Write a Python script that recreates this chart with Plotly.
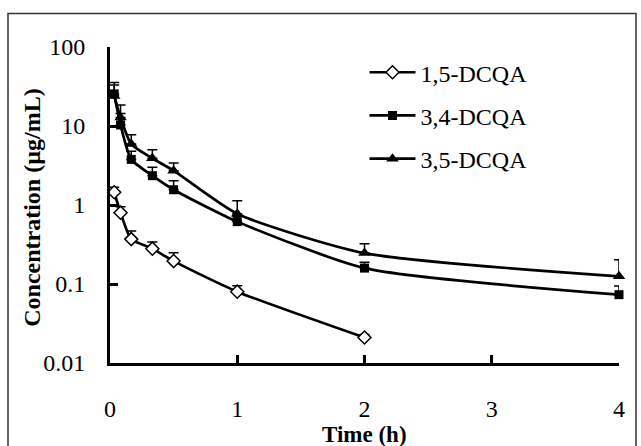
import plotly.graph_objects as go

times = [0.033, 0.083, 0.167, 0.333, 0.5, 1, 2, 4]
names = ["1,5-DCQA", "3,4-DCQA", "3,5-DCQA"]

dcqa15 = [1.45, 0.80, 0.37, 0.28, 0.195, 0.080, 0.021]
err15 = [0.23, 0.15, 0.10, 0.06, 0.053, 0.015, 0.002]

dcqa34 = [25.5, 10.3, 3.78, 2.35, 1.56, 0.616, 0.159, 0.0733]
err34 = [10.0, 4.1, 1.0, 0.65, 0.47, 0.10, 0.03, 0.021]

dcqa35 = [24.0, 12.8, 5.9, 3.9, 2.72, 0.773, 0.246, 0.125]
err35 = [9.0, 5.6, 1.84, 1.1, 0.68, 0.36, 0.077, 0.078]

xticks = [0, 1, 2, 3, 4]
yticks = [0.01, 0.1, 1, 10, 100]
yticklabels = ["0.01", "0.1", "1", "10", "100"]

FONT = "Liberation Serif"

series = [
    (names[0], times[:len(dcqa15)], dcqa15, err15,
     dict(symbol="diamond", size=10, color="white", line=dict(color="black", width=1.5))),
    (names[1], times, dcqa34, err34,
     dict(symbol="square", size=9, color="black", line=dict(color="black", width=0))),
    (names[2], times, dcqa35, err35,
     dict(symbol="triangle-up", size=11, color="black", line=dict(color="black", width=0))),
]

fig = go.Figure()
for i, (nm, x, y, e, mk) in enumerate(series):
    fig.add_trace(go.Scatter(
        x=x, y=y, name=nm, mode="lines+markers",
        line=dict(color="black", width=2.7, shape="spline", smoothing=0.6),
        marker=mk, legendgroup=nm, cliponaxis=False,
        error_y=dict(type="data", symmetric=False, array=e,
                     arrayminus=[0] * len(e), color="black",
                     thickness=1.5, width=5),
    ))

fig.update_layout(
    width=641, height=446,
    margin=dict(l=110, r=22, t=47, b=83),
    paper_bgcolor="white", plot_bgcolor="white",
    font=dict(family=FONT, color="black", size=24),
    showlegend=True,
    legend=dict(x=0.5, y=0.99, xanchor="left", yanchor="top",
                bgcolor="rgba(0,0,0,0)", font=dict(family=FONT, size=24),
                tracegroupgap=9, traceorder="grouped", itemwidth=46),
    xaxis=dict(range=[0, 4], tickvals=xticks, ticks="inside", ticklen=8,
               tickwidth=2.5, tickcolor="black", showline=True,
               linecolor="black", linewidth=3, showgrid=False,
               zeroline=False, ticklabelstandoff=22,
               tickfont=dict(family=FONT, size=24)),
    yaxis=dict(type="log", range=[-2, 2], tickvals=yticks,
               ticktext=yticklabels, ticks="inside", ticklen=8,
               tickwidth=2.5, tickcolor="black", showline=True,
               linecolor="black", linewidth=3, showgrid=False,
               zeroline=False, ticklabelstandoff=17,
               tickfont=dict(family=FONT, size=24)),
    annotations=[
        dict(text="<b>Time (h)</b>", xref="paper", yref="paper",
             x=0.5, y=-0.225, xanchor="center", yanchor="middle",
             showarrow=False, font=dict(family=FONT, size=23)),
        dict(text="<b>Concentration (µg/mL)</b>", xref="paper", yref="paper",
             x=-0.152, y=0.49, xanchor="center", yanchor="middle",
             textangle=-90, showarrow=False, font=dict(family=FONT, size=24)),
    ],
    shapes=[
        dict(type="rect", xref="paper", yref="paper",
             x0=-0.2004, x1=1.0334, y0=-0.4, y1=1.1064,
             line=dict(color="#333333", width=1.5), layer="below"),
    ],
)

fig.write_html("out.html", config={"displayModeBar": False},
               post_script="document.body.style.margin='0';document.body.style.overflow='hidden';")
